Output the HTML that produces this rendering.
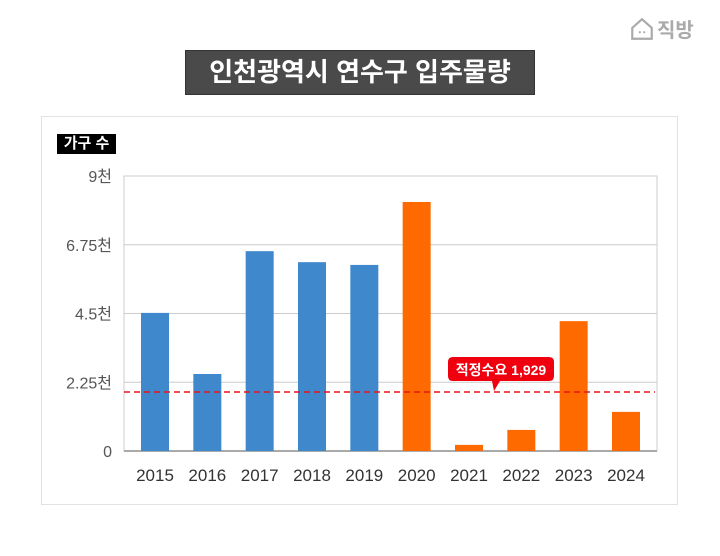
<!DOCTYPE html>
<html><head><meta charset="utf-8"><style>
body{margin:0;width:720px;height:556px;background:#fff;font-family:"Liberation Sans","Noto Sans CJK KR",sans-serif;position:relative;overflow:hidden}
.abs{position:absolute}
</style></head><body>
<div class="abs" style="left:630px;top:14px;color:#aaa;font-size:20px;font-weight:bold;display:flex;align-items:center;gap:3px">
<svg width="24" height="26" viewBox="0 0 22 24"><path d="M2 11 L11 3 L20 11 V21 H2 Z" fill="none" stroke="#aaa" stroke-width="2"/><circle cx="9" cy="15" r="1" fill="#aaa"/><circle cx="13" cy="15" r="1" fill="#aaa"/></svg><span>직방</span></div>
<div class="abs" style="left:185px;top:50px;width:350px;height:45px;background:#4a4a4a;border:1px solid #333;box-sizing:border-box;color:#fff;font-size:26px;font-weight:bold;text-align:center;line-height:43px">인천광역시 연수구 입주물량</div>
<div class="abs" style="left:41px;top:116px;width:637px;height:389px;border:1px solid #e2e2e2;box-sizing:border-box"></div>
<div class="abs" style="left:57px;top:134px;width:59px;height:20px;background:#000;color:#fff;font-size:15px;font-weight:bold;text-align:center;line-height:20px">가구 수</div>
<svg class="abs" style="left:0;top:0" width="720" height="556" id="chart"></svg>
<script>
const categories=["2015","2016","2017","2018","2019","2020","2021","2022","2023","2024"];
const values=[4520,2520,6540,6180,6090,8150,200,690,4250,1280];
const yTicks=[0,2250,4500,6750,9000];
const yTickLabels=["0","2.25천","4.5천","6.75천","9천"];
const demand=1929;
const demandLabel="적정수요 1,929";
const NS="http://www.w3.org/2000/svg";
const svg=document.getElementById('chart');
const L=124,R=657,T=176,B=451,yMax=9000;
const y=v=>B-(v/yMax)*(B-T);
const x0=155,x1=626;
const x=i=>x0+(x1-x0)*i/(categories.length-1);
function mk(t,a){const e=document.createElementNS(NS,t);for(const k in a)e.setAttribute(k,a[k]);svg.appendChild(e);return e;}
const frame=mk('rect',{x:L,y:T,width:R-L,height:B-T,fill:'none',stroke:'#ccc','stroke-width':1});


yTicks.forEach((t,i)=>{
 const g=mk('line',{x1:L,x2:R,y1:y(t),y2:y(t),stroke:i==0?'#aaa':'#ccc','stroke-width':i==0?2:1});
 
 
 const tx=mk('text',{x:112,y:y(t)+6,'text-anchor':'end','font-size':16,fill:'#555'});
 tx.textContent=yTickLabels[i];
 
 
});
categories.forEach((c,i)=>{
 const r=mk('rect',{x:x(i)-14,y:y(values[i]),width:28,height:B-y(values[i]),fill:i<5?'#3f88cc':'#ff6a00'});
 
 
 const tx=mk('text',{x:x(i),y:481,'text-anchor':'middle','font-size':17,fill:'#333'});
 tx.textContent=c;
 
 
});
const dl=mk('line',{x1:L,x2:R-2,y1:y(demand),y2:y(demand),stroke:'#e8141b','stroke-width':1.5,'stroke-dasharray':'6,4'});


const by=y(demand);
const bub=mk('path',{d:`M453 ${by-35} H549 Q554 ${by-35} 554 ${by-30} V${by-16} Q554 ${by-11} 549 ${by-11} H500 L494 ${by-1} L492 ${by-11} H453 Q448 ${by-11} 448 ${by-16} V${by-30} Q448 ${by-35} 453 ${by-35} Z`,fill:'#f0000f'});


const bt=mk('text',{x:501,y:by-17,'text-anchor':'middle','font-size':14,'font-weight':'bold',fill:'#fff'});
bt.textContent=demandLabel;


</script>
</body></html>
